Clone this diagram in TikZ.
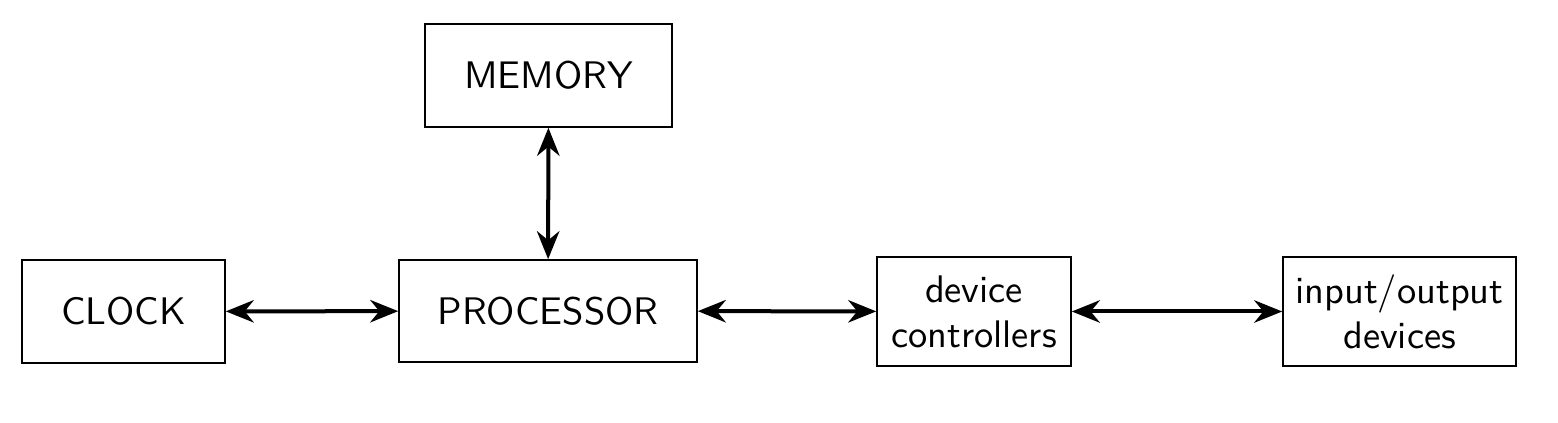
\documentclass[tikz,border=0pt]{standalone}
\usepackage{tikz}
\usetikzlibrary{arrows.meta}

\begin{document}
\begin{tikzpicture}[
      x=0.25pt, y=-0.25pt,
      unit/.style={draw, line width=0.4pt, align=center, inner sep=0pt,
        font=\sffamily\fontsize{9.6}{11.2}\selectfont},
      link/.style={line width=1pt, {Stealth[length=7pt,width=5.6pt]}-{Stealth[length=7pt,width=5.6pt]}}
    ]
      \useasboundingbox (0,0) rectangle (1558,423);

      \node[unit, minimum width=50.75pt, minimum height=25.75pt] (clock) at (123.5, 311.5) {CLOCK};
      \node[unit, minimum width=74.5pt, minimum height=25.5pt] (proc) at (548, 311) {PROCESSOR};
      \node[unit, minimum width=61.75pt, minimum height=25.75pt] (mem) at (548.5, 75.5) {MEMORY};
      \node[unit, minimum width=48.5pt, minimum height=27.25pt] (devctl) at (974, 311.5) {device\\controllers};
      \node[unit, minimum width=58.25pt, minimum height=27.25pt] (iodev) at (1399.5, 311.5) {input/output\\devices};

      \draw[link] (clock) -- (proc);
      \draw[link] (mem) -- (proc);
      \draw[link] (proc) -- (devctl);
      \draw[link] (devctl.east) -- (iodev.west);
    \end{tikzpicture}
\end{document}
